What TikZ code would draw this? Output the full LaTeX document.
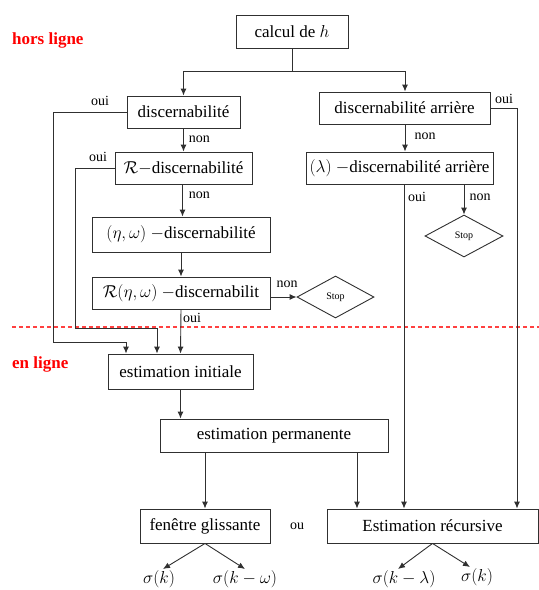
\documentclass[tikz,border=0pt]{standalone}
\usepackage{fontspec}
\setmainfont{Liberation Serif}
\newfontfamily\tnr{Liberation Serif}
\usetikzlibrary{shapes.geometric,arrows.meta}
\definecolor{ln}{HTML}{303030}
\definecolor{dred}{HTML}{FF4040}
\begin{document}
\begin{tikzpicture}[x=1pt,y=-1pt,
  box/.style={draw=ln,line width=0.9pt,minimum height=32pt,inner sep=0pt,font=\tnr\fontsize{17}{20}\selectfont},
  stopbox/.style={draw=ln,line width=0.9pt,diamond,aspect=1.85,inner sep=0pt,font=\tnr\fontsize{10}{12}\selectfont},
  lab/.style={font=\tnr\fontsize{14}{16}\selectfont,inner sep=0pt},
  res/.style={font=\fontsize{17}{20}\selectfont,inner sep=1pt},
  side/.style={text=red,font=\tnr\bfseries\fontsize{17}{20}\selectfont,inner sep=0pt,anchor=west},
  conn/.style={draw=ln,line width=0.9pt},
  arr/.style={conn,-{Latex[length=7pt,width=6pt]}}]
\useasboundingbox (0,0) rectangle (539,590);
% side labels and separation
\node[side] (hl) at (12,40) {hors ligne};
\node[side] (el) at (12,364) {en ligne};
\coordinate (dl) at (12,327);
\coordinate (dr) at (539,327);
\draw[draw=dred,line width=1.1pt,dash pattern=on 4pt off 3pt] (dl) -- (dr);
% boxes
\node[box,minimum width=112pt,minimum height=33pt] (calc) at (292,31.5) {calcul de $h$};
\node[box,minimum width=113pt] (d1) at (183.5,112) {discernabilité};
\node[box,minimum width=137pt] (dR) at (183.5,168) {$\mathcal{R}-$discernabilité};
\node[box,minimum width=178pt,minimum height=35pt] (deta) at (181,234.5) {$(\eta,\omega)\ -$discernabilité};
\node[box,minimum width=178pt] (dReta) at (181,293) {$\mathcal{R}(\eta,\omega)\ -$discernabilit};
\node[stopbox,minimum width=77pt,minimum height=42pt] (stop1) at (335.5,297) {Stop};
\node[box,minimum width=171pt] (dA) at (404.5,108) {discernabilité arrière};
\node[box,minimum width=187pt] (dlA) at (399.5,168) {$(\lambda)\ -$discernabilité arrière};
\node[stopbox,minimum width=78pt,minimum height=42pt] (stop2) at (464,236) {Stop};
\node[box,minimum width=145pt,minimum height=35pt] (ei) at (180.5,371.5) {estimation initiale};
\node[box,minimum width=228pt,minimum height=33pt] (ep) at (274,435.5) {estimation permanente};
\node[box,minimum width=130pt,minimum height=34pt] (fg) at (205,526) {fenêtre glissante};
\node[box,minimum width=211pt,minimum height=34pt] (er) at (432.5,526) {Estimation récursive};
\node[lab] (ou) at (297,526) {ou};
% results
\node[res,anchor=north] (s1) at (159,569) {$\sigma(k)$};
\node[res,anchor=north] (s2) at (245,569) {$\sigma(k-\omega)$};
\node[res,anchor=north] (s3) at (404,569) {$\sigma(k-\lambda)$};
\node[res,anchor=north] (s4) at (477,567) {$\sigma(k)$};
% top split
\coordinate (j) at (292,71);
\draw[conn] (calc.south) -- (j);
\draw[arr] (j) -| (d1.north);
\draw[arr] (j) -| ([xshift=0.5pt]dA.north);
% left chain
\draw[arr] (d1.south) -- (dR.north) node[lab,pos=0.45,right=5pt] (n1) {non};
\draw[arr] ([xshift=-1pt]dR.south) -- ([xshift=1.5pt]deta.north) node[lab,pos=0.35,right=6pt] (n2) {non};
\draw[arr] (deta.south) -- (dReta.north);
\draw[arr] (dReta.south) -- (ei.north);
\node[lab] (o3) at (192,318) {oui};
\coordinate (c1) at (53,342);
\draw[arr] (d1.west) -| (c1) -| ([xshift=-54.5pt]ei.north);
\node[lab] (o1) at (100,101) {oui};
\coordinate (c2) at (75,328);
\draw[arr] (dR.west) -| (c2) -| ([xshift=-23.5pt]ei.north);
\node[lab] (o2) at (98,157) {oui};
\draw[arr] (dReta.east |- stop1.west) -- (stop1.west);
\node[lab] (n3) at (287,284) {non};
% right chain
\draw[arr] ([xshift=0.5pt]dA.south) -- ([xshift=5.5pt]dlA.north);
\node[lab] (n4) at (425,136) {non};
\draw[arr] (dA.east) -| ([xshift=84.5pt]er.north);
\node[lab] (o4) at (504,99) {oui};
\draw[arr] ([xshift=4.5pt]dlA.south) -- ([xshift=-28.5pt]er.north);
\node[lab] (o5) at (417,197) {oui};
\draw[arr] ([xshift=64.5pt]dlA.south) -- (stop2.north);
\node[lab] (n5) at (480,197) {non};
% lower part
\draw[arr] (ei.south) -- (ei.south |- ep.north);
\draw[arr] (fg.north |- ep.south) -- (fg.north);
\draw[arr] ([xshift=-75.5pt]er.north |- ep.south) -- ([xshift=-75.5pt]er.north);
\draw[arr] (fg.south) -- ([xshift=4pt]s1.north);
\draw[arr] (fg.south) -- (s2.north);
\draw[arr] (er.south) -- ([xshift=-6pt]s3.north);
\draw[arr] (er.south) -- ([xshift=-7pt]s4.north);
\end{tikzpicture}
\end{document}
